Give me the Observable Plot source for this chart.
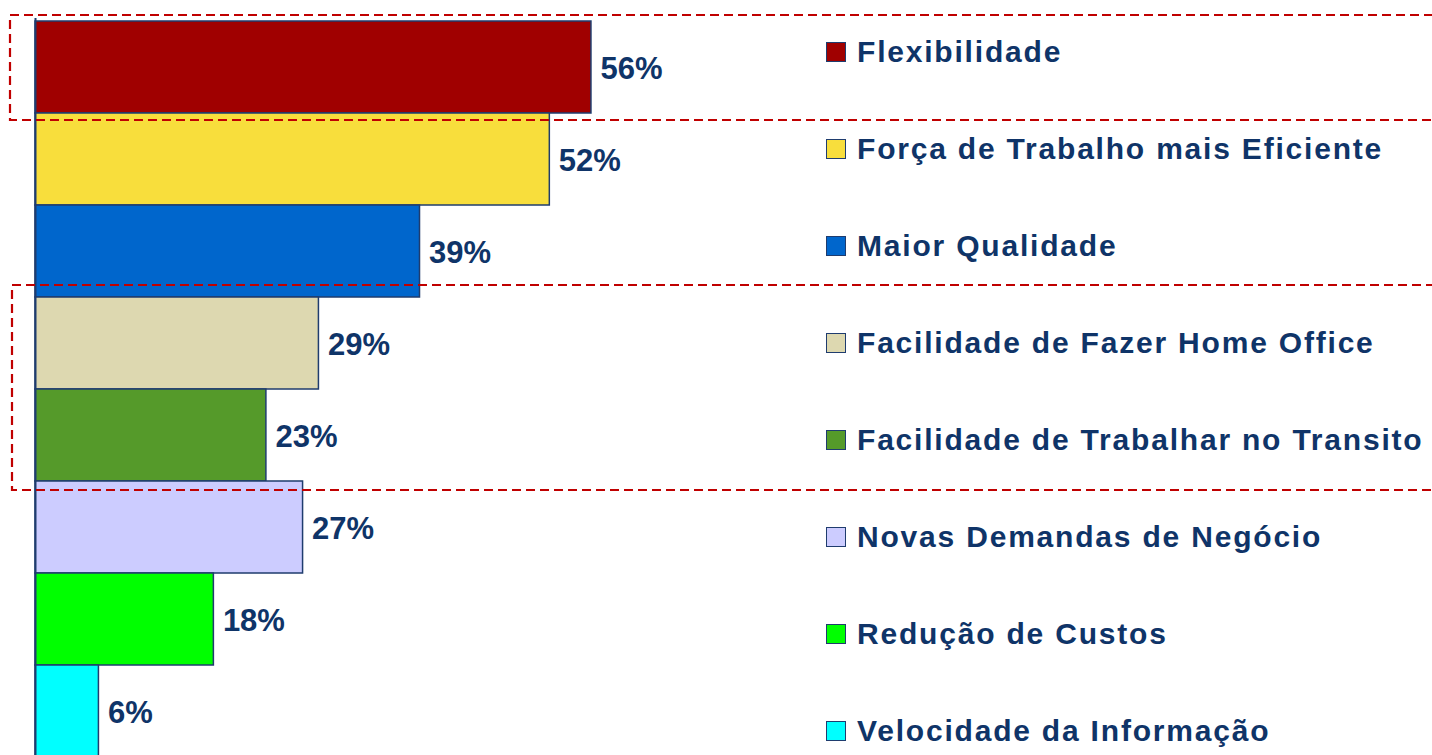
<!DOCTYPE html>
<html>
<head>
<meta charset="utf-8">
<script src="https://cdn.jsdelivr.net/npm/d3@7"></script>
<script src="https://cdn.jsdelivr.net/npm/@observablehq/plot@0.6"></script>
<style>
  html, body { margin: 0; padding: 0; background: #fff; }
  #wrap { position: relative; width: 1432px; height: 755px; overflow: hidden; font-family: "Liberation Sans", Arial, sans-serif; }
  #legend { position: absolute; left: 826px; top: 3px; }
  .item { height: 97.1px; display: flex; align-items: center; white-space: nowrap; }
  .sw { width: 18px; height: 18px; border: 1.5px solid #1F3C6E; margin-right: 11px; flex: none; }
  .lbl { font-size: 30px; font-weight: bold; color: #0F3468; letter-spacing: 1.8px; }
</style>
</head>
<body>
<div id="wrap"><div id="chart"></div><div id="legend"></div></div>
<script>
const categories = [
  "Flexibilidade",
  "Força de Trabalho mais Eficiente",
  "Maior Qualidade",
  "Facilidade de Fazer Home Office",
  "Facilidade de Trabalhar no Transito",
  "Novas Demandas de Negócio",
  "Redução de Custos",
  "Velocidade da Informação"
];
const values = [56.1, 51.9, 38.8, 28.6, 23.3, 27.0, 18.0, 6.4];
const valueLabels = ["56%", "52%", "39%", "29%", "23%", "27%", "18%", "6%"];
const colors = ["#A00000", "#F8DE3C", "#0066CC", "#DDD8B0", "#559A2A", "#CCCCFF", "#00FF00", "#00FFFF"];
const highlightGroups = [
  ["Flexibilidade"],
  ["Facilidade de Fazer Home Office", "Facilidade de Trabalhar no Transito"]
];

const data = categories.map((c, i) => ({cat: c, value: values[i], label: valueLabels[i], color: colors[i]}));
const textColor = "#0F3468";
const edge = "#1F3C6E";

function highlightBoxes(index, scales, values, dimensions) {
  const ns = "http://www.w3.org/2000/svg";
  const g = document.createElementNS(ns, "g");
  const y = scales.y;
  const step = y(categories[1]) - y(categories[0]);
  const bw = (y.bandwidth ? y.bandwidth() : step);
  const pads = [[6, 7], [12, 9]];
  const lefts = [25, 23];
  highlightGroups.forEach((grp, k) => {
    const y0 = y(grp[0]) - pads[k][0];
    const y1 = y(grp[grp.length - 1]) + bw + pads[k][1];
    const x0 = dimensions.marginLeft - lefts[k];
    const r = document.createElementNS(ns, "rect");
    r.setAttribute("x", x0);
    r.setAttribute("y", y0);
    r.setAttribute("width", dimensions.width - x0 + 20);
    r.setAttribute("height", y1 - y0);
    r.setAttribute("fill", "none");
    r.setAttribute("stroke", "#C00000");
    r.setAttribute("stroke-width", 2.2);
    r.setAttribute("stroke-dasharray", "9,5");
    g.appendChild(r);
  });
  return g;
}

const plot = Plot.plot({
  width: 1432,
  height: 759,
  marginLeft: 35,
  marginRight: 406,
  marginTop: 18,
  marginBottom: 0,
  style: {background: "transparent", overflow: "visible"},
  x: {domain: [0, 100], axis: null},
  y: {domain: categories, padding: 0, axis: null},
  marks: [
    Plot.barX(data, {x: "value", y: "cat", fill: "color", stroke: edge, strokeWidth: 1.5}),
    Plot.ruleX([0], {stroke: edge, strokeWidth: 2}),
    Plot.text(data, {x: "value", y: "cat", text: "label", textAnchor: "start", dx: 9, dy: 2,
      fill: textColor, fontSize: 31, fontWeight: "bold", fontFamily: "Liberation Sans, Arial, sans-serif",
      letterSpacing: "2px"}),
    highlightBoxes
  ]
});
document.getElementById("chart").appendChild(plot);

const legend = document.getElementById("legend");
categories.forEach((c, i) => {
  const item = document.createElement("div");
  item.className = "item";
  const sw = document.createElement("span");
  sw.className = "sw";
  sw.style.background = colors[i];
  const lbl = document.createElement("span");
  lbl.className = "lbl";
  lbl.textContent = c;
  item.appendChild(sw);
  item.appendChild(lbl);
  legend.appendChild(item);
});
</script>
</body>
</html>
